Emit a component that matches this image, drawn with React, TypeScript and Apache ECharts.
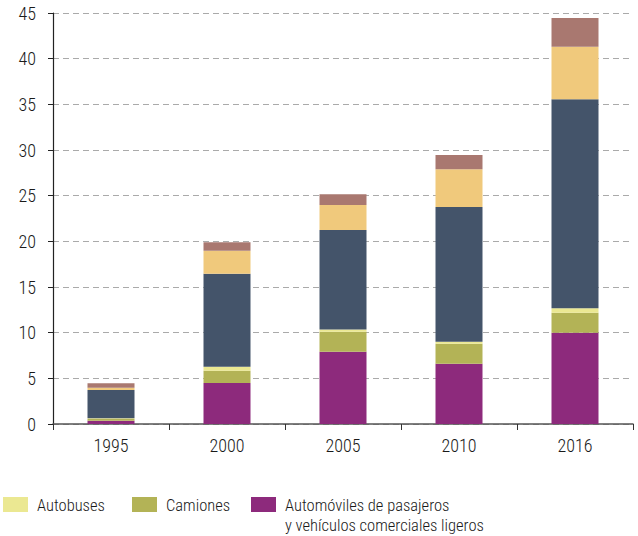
import React, { useEffect, useRef } from "react";
import * as echarts from "echarts";

const years = ["1995", "2000", "2005", "2010", "2016"];
const automoviles = [0.36, 4.49, 7.9, 6.6, 10.0];
const camiones = [0.2, 1.35, 2.2, 2.2, 2.19];
const autobuses = [0.06, 0.43, 0.25, 0.2, 0.48];
const serieOscura = [3.1, 10.19, 10.89, 14.76, 22.88];
const serieBeige = [0.26, 2.51, 2.74, 4.13, 5.75];
const serieRosa = [0.47, 0.93, 1.17, 1.56, 3.15];
const yTicks = [0, 5, 10, 15, 20, 25, 30, 35, 40, 45];

const C_AUTO = "#8d2a7c";
const C_CAM = "#b3b356";
const C_BUS = "#ebe892";
const C_DARK = "#44546a";
const C_BEIGE = "#f0c97c";
const C_ROSE = "#a97870";

const FONT = "'Roboto Condensed', 'Liberation Sans', sans-serif";

export default function App() {
  const ref = useRef<HTMLDivElement>(null);
  useEffect(() => {
    if (!ref.current) return;
    const chart = echarts.init(ref.current, undefined, { renderer: "svg" });
    const mk = (name: string, data: number[], color: string) => ({
      name,
      type: "bar",
      stack: "total",
      data,
      barWidth: 47,
      itemStyle: { color },
    });
    const legendItems = [
      { x: 3, color: C_BUS, lines: ["Autobuses"] },
      { x: 132, color: C_CAM, lines: ["Camiones"] },
      { x: 251, color: C_AUTO, lines: ["Automóviles de pasajeros", "y vehículos comerciales ligeros"] },
    ];
    const graphic: any[] = [];
    legendItems.forEach((it) => {
      graphic.push({
        type: "rect",
        left: it.x,
        top: 497,
        shape: { width: 25, height: 15 },
        style: { fill: it.color },
      });
      graphic.push({
        type: "text",
        left: it.x + 34,
        top: 495,
        style: {
          text: it.lines.join("\n"),
          font: `300 16.5px ${FONT}`,
          fill: "#1a1a1a",
          lineHeight: 20,
        },
      });
    });
    chart.setOption({
      animation: false,
      grid: { left: 53, right: 5, top: 13, bottom: 112 },
      xAxis: {
        type: "category",
        data: years,
        axisLine: { lineStyle: { color: "#555", width: 1.5 } },
        axisTick: { show: true, length: 6, lineStyle: { color: "#333" }, alignWithLabel: false },
        axisLabel: { color: "#1a1a1a", fontSize: 18, fontWeight: 300, fontFamily: FONT, margin: 12 },
      },
      yAxis: {
        type: "value",
        min: 0,
        max: 45,
        interval: 5,
        axisLine: { show: true, lineStyle: { color: "#222", width: 1.2 } },
        axisTick: { show: true, length: 5, lineStyle: { color: "#222" } },
        axisLabel: {
          color: "#1a1a1a",
          fontSize: 18,
          fontWeight: 300,
          fontFamily: FONT,
          margin: 17,
          formatter: (v: number) => (yTicks.includes(v) ? String(v) : ""),
        },
        splitLine: { show: true, lineStyle: { color: "#aaa", type: [6, 4], width: 1.2 } },
      },
      series: [
        mk("Automóviles de pasajeros y vehículos comerciales ligeros", automoviles, C_AUTO),
        mk("Camiones", camiones, C_CAM),
        mk("Autobuses", autobuses, C_BUS),
        mk("Serie 4", serieOscura, C_DARK),
        mk("Serie 5", serieBeige, C_BEIGE),
        mk("Serie 6", serieRosa, C_ROSE),
      ],
      graphic,
    });
    return () => chart.dispose();
  }, []);
  return <div ref={ref} style={{ width: 638, height: 536, position: "absolute", left: 0, top: 0 }} />;
}
